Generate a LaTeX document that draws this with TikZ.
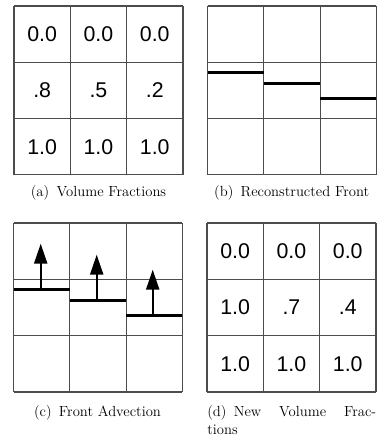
\documentclass[tikz,border=0pt]{standalone}
\usepackage{fontspec}
\newfontfamily\cellfont{Liberation Sans}
\usetikzlibrary{arrows.meta}

\tikzset{
  gridline/.style={draw=black!70, line width=0.9pt},
  cellval/.style={font=\cellfont\fontsize{16}{16}\selectfont, inner sep=0pt},
  front/.style={line width=2.3pt, black},
  velocity/.style={line width=1.5pt, -{Triangle[length=15pt,width=9.8pt]}},
  subcap/.style={font=\fontsize{11}{13.3}\selectfont, inner sep=0pt}
}

\begin{document}
\begin{tikzpicture}[x=0.75pt,y=-0.75pt]
  \useasboundingbox (0,0) rectangle (381,438);

  % the four 3x3 grids
  \foreach \gx/\gy in {14/6, 207.5/6, 13.5/223, 207/223}
    \foreach \i in {0,...,3} {
      \draw[gridline] (\gx+\i*56.3,\gy) -- (\gx+\i*56.3,\gy+168.9);
      \draw[gridline] (\gx,\gy+\i*56.3) -- (\gx+168.9,\gy+\i*56.3);
    }

  % (a) volume fractions
  \foreach \r/\vals in {1/{0.0,0.0,0.0}, 2/{.8,.5,.2}, 3/{1.0,1.0,1.0}}
    \foreach \v [count=\c] in \vals
      \node[cellval] (a\r\c) at (14+\c*56.3-28.15, 6+\r*56.3-28.15) {\v};

  % (b) reconstructed front
  \foreach \c/\fy in {1/72.5, 2/83.5, 3/98.5}
    \draw[front] (207.5+\c*56.3-56.3,\fy) -- ++(56.3,0);

  % (c) front advection
  \foreach \c/\fy/\ax in {1/289.5/40.7, 2/300.5/96.7, 3/315.5/152.7} {
    \draw[front] (13.5+\c*56.3-56.3,\fy) -- ++(56.3,0);
    \coordinate (foot\c) at (\ax,\fy);
    \coordinate (tip\c) at (\ax,\fy-45.8);
    \draw[velocity] (foot\c) -- (tip\c);
  }

  % (d) new volume fractions
  \foreach \r/\vals in {1/{0.0,0.0,0.0}, 2/{1.0,.7,.4}, 3/{1.0,1.0,1.0}}
    \foreach \v [count=\c] in \vals
      \node[cellval] (d\r\c) at (207+\c*56.3-28.15, 223+\r*56.3-28.15) {\v};

  % captions
  \node[subcap, anchor=base] (capA) at (98.5,196.7) {(a)\enspace Volume Fractions};
  \node[subcap, anchor=base] (capB) at (291.7,196.7) {(b)\enspace Reconstructed Front};
  \node[subcap, anchor=base] (capC) at (97.5,416.7) {(c)\enspace Front Advection};
  \node[subcap, anchor=north west, align=left] (capD) at (207,405.5)
    {\makebox[126.7pt][s]{(d)\enspace New Volume Frac-}\\tions};
\end{tikzpicture}
\end{document}
